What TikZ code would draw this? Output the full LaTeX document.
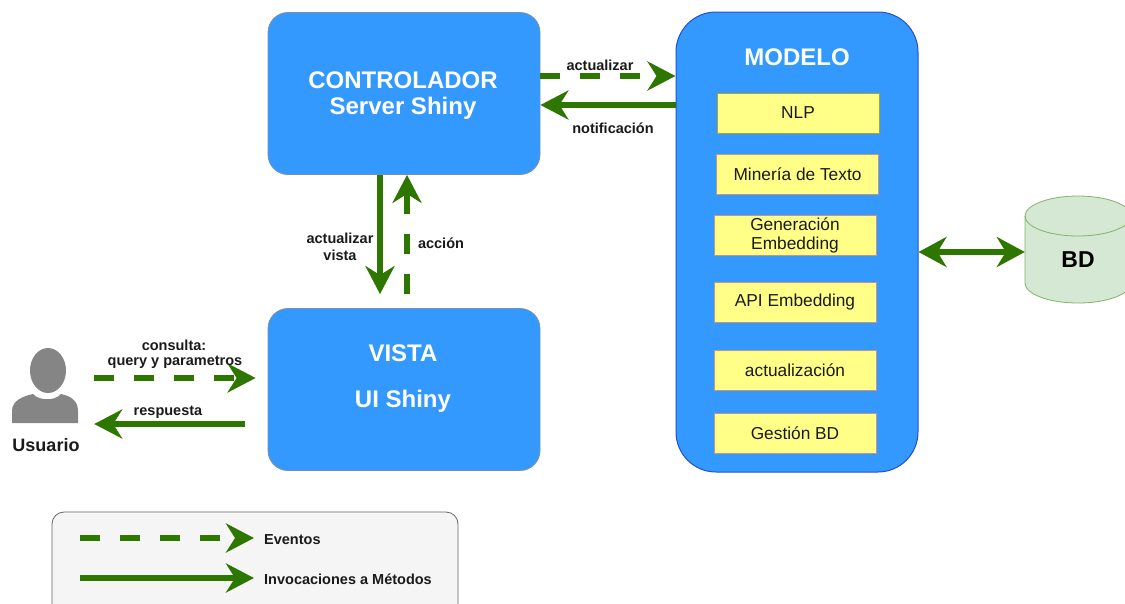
\documentclass[tikz,border=0pt]{standalone}
\usepackage{fontspec}
\setmainfont{Liberation Sans}
\usetikzlibrary{arrows.meta,calc}
\definecolor{bluefill}{HTML}{3399FF}
\definecolor{ctrlborder}{HTML}{7A8FAF}
\definecolor{modborder}{HTML}{2350D0}
\definecolor{yel}{HTML}{FFFF88}
\definecolor{yelb}{HTML}{C99090}
\definecolor{yelb2}{HTML}{B8A030}
\definecolor{garrow}{HTML}{2D7600}
\definecolor{cylfill}{HTML}{D5E8D4}
\definecolor{cylborder}{HTML}{82B366}
\definecolor{legfill}{HTML}{F5F5F5}
\definecolor{legborder}{HTML}{666666}
\definecolor{usergray}{HTML}{858585}
\definecolor{txt}{HTML}{1A1A1A}
\tikzset{
  bigbox/.style={draw=ctrlborder, line width=0.8pt, fill=bluefill, rounded corners=20pt,
    minimum width=272pt, minimum height=162pt, inner sep=0pt},
  bigtxt/.style={text=white, font=\fontsize{24}{28}\selectfont\bfseries, align=center, inner sep=0pt},
  ybox/.style={draw=yelb, line width=0.8pt, fill=yel, minimum width=162pt, minimum height=40pt,
    inner sep=0pt, align=center, font=\fontsize{17.3}{19.5}\selectfont, text=txt},
  lbl/.style={font=\fontsize{14.5}{17}\selectfont\bfseries, text=txt, inner sep=0pt, align=center},
  arr/.style={draw=garrow, line width=6pt, -{Stealth[length=28pt, width=29pt, inset=9pt]}},
  evt/.style={arr, dash pattern=on 20pt off 20pt},
}
\begin{document}
\begin{tikzpicture}[x=1pt,y=-1pt]
\useasboundingbox (0,0) rectangle (1125,603);
\clip (0,0) rectangle (1125,603);

% Controller and view
\node[bigbox] (ctrl) at (404,93.5) {};
\node[bigtxt] at (403,80) {CONTROLADOR};
\node[bigtxt] at (403,108) {Server Shiny};
\node[bigbox] (vista) at (404,389.5) {};
\node[bigtxt] at (403,353) {VISTA};
\node[bigtxt] at (403,401) {UI Shiny};

% Model
\node[draw=modborder, line width=1pt, fill=bluefill, rounded corners=40pt,
  minimum width=242pt, minimum height=460pt, inner sep=0pt] (mod) at (797,242) {};
\node[bigtxt] at (797,57) {MODELO};
\node[ybox, draw=yelb2] (nlp) at (798,113) {NLP};
\node[ybox] (min) at (797.5,174) {Minería de Texto};
\node[ybox] (gen) at (795,235.5) {Generación\\Embedding};
\node[ybox] (api) at (795,302) {API Embedding};
\node[ybox] (act) at (795,370) {actualización};
\node[ybox] (ges) at (795,433) {Gestión BD};

% Database cylinder
\path[fill=cylfill, draw=cylborder, line width=0.8pt]
  (1025,216) -- (1025,283) arc[start angle=180, end angle=0, x radius=53, y radius=20]
  -- (1131,216) arc[start angle=0, end angle=-180, x radius=53, y radius=20] -- cycle;
\draw[cylborder, line width=0.8pt] (1025,216) arc[start angle=180, end angle=0, x radius=53, y radius=20];
\node[minimum width=106pt, minimum height=107pt, inner sep=0pt] (bd) at (1078,250) {};
\node[font=\fontsize{23}{28}\selectfont\bfseries, text=black, inner sep=0pt] at (1078,260) {BD};

% User icon
\node[minimum width=66pt, minimum height=76pt, inner sep=0pt] (user) at (45,385) {};
\fill[usergray] (12,423) -- (12,411) .. controls (12,400) and (24,396) .. (33,394)
  .. controls (38,400) and (54,402) .. (61,394)
  .. controls (70,396) and (78,400) .. (78,411) -- (78,423) -- cycle;
\fill[usergray] (48,370.5) ellipse[x radius=18, y radius=22.5];
\node[font=\fontsize{18}{21}\selectfont\bfseries, text=txt, inner sep=0pt] (ulabel) at (46,445) {Usuario};

% Controller <-> Model
\draw[evt] (ctrl.east |- 0,76) -- (mod.west |- 0,76);
\draw[arr] (mod.west |- 0,105) -- (ctrl.east |- 0,105);
\node[lbl] at (600,65) {actualizar};
\node[lbl] at (613,128) {notificación};

% Controller <-> View
\draw[arr, shorten >=14pt] (ctrl.south -| 380,0) -- (vista.north -| 380,0);
\draw[evt, shorten <=14pt] (vista.north -| 407,0) -- (ctrl.south -| 407,0);
\node[lbl] at (340,246.5) {actualizar\\vista};
\node[lbl] at (441,243) {acción};

% User <-> View
\draw[evt, shorten <=16pt, shorten >=12pt] (user.east |- 0,378) -- (vista.west |- 0,378);
\draw[arr, shorten <=23pt, shorten >=16pt] (vista.west |- 0,424) -- (user.east |- 0,424);
\node[lbl] at (174,345) {consulta:};
\node[lbl] at (175,362) {query y parametros};
\node[lbl] at (168,412) {respuesta};

% Model <-> DB
\draw[draw=garrow, line width=6pt, {Stealth[length=28pt, width=30pt, inset=9pt]}-{Stealth[length=28pt, width=30pt, inset=9pt]}]
  (mod.east |- 0,252) -- (bd.west |- 0,252);

% Legend
\node[draw=legborder, line width=0.8pt, fill=legfill, rounded corners=12pt,
  minimum width=406pt, minimum height=110pt, inner sep=0pt] (legend) at (255,567) {};
\coordinate (l1s) at (80,538);
\coordinate (l1e) at (254,538);
\coordinate (l2s) at (80,578);
\coordinate (l2e) at (254,578);
\draw[evt] (l1s) -- (l1e);
\draw[arr] (l2s) -- (l2e);
\node[lbl, anchor=west] at (264,540) {Eventos};
\node[lbl, anchor=west] at (264,579) {Invocaciones a Métodos};
\end{tikzpicture}
\end{document}
